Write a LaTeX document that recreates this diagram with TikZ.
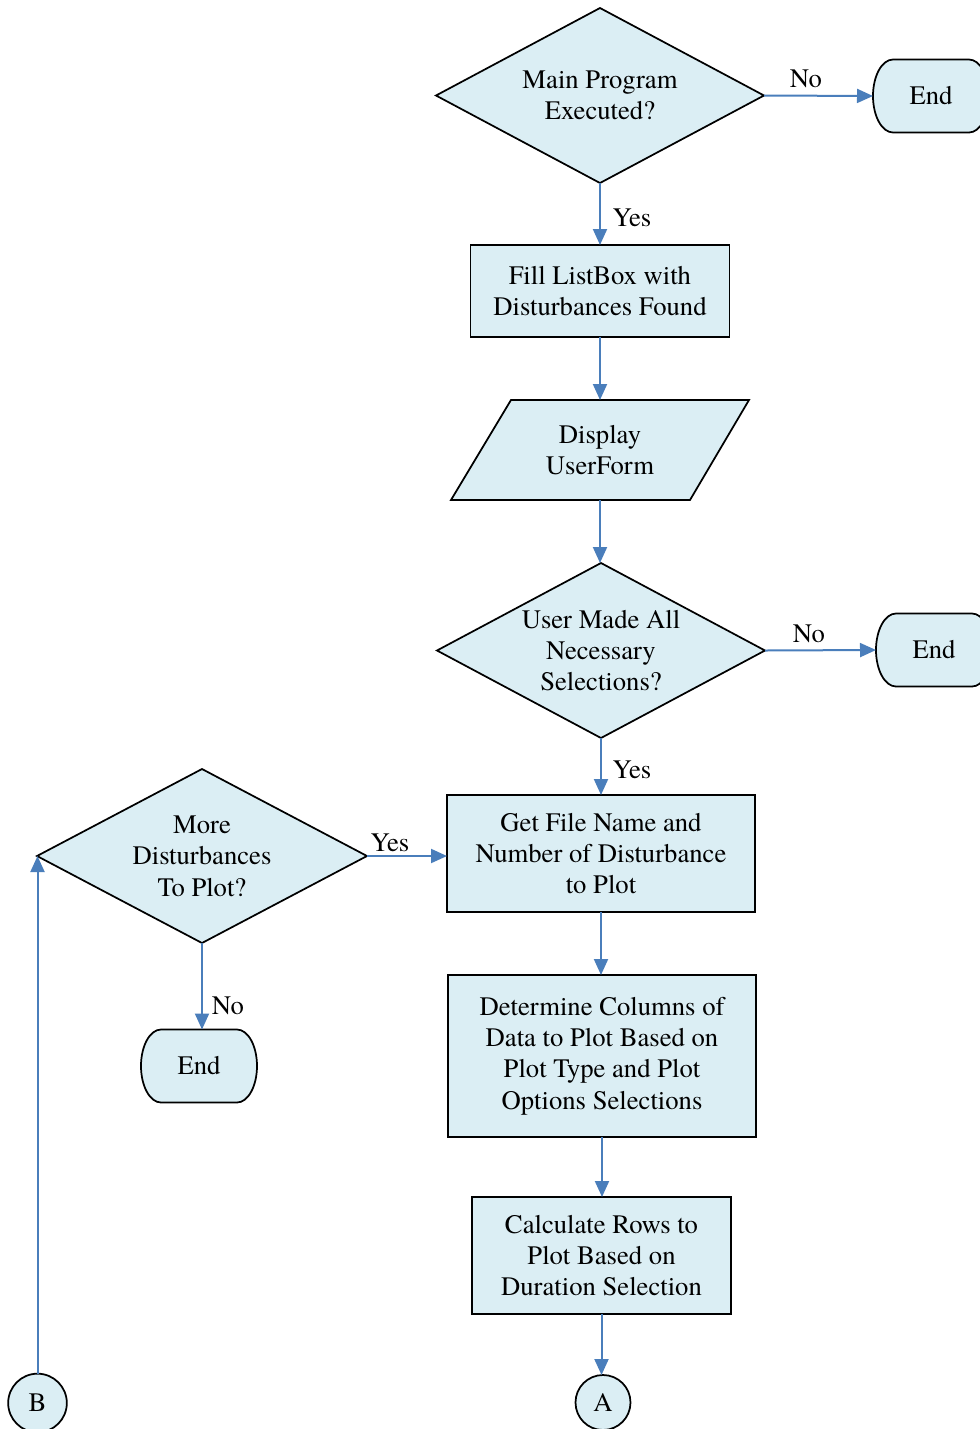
\documentclass[tikz,border=0pt]{standalone}
\usepackage{fontspec}
\setmainfont{texgyretermes-regular.otf}
\usetikzlibrary{shapes.geometric,arrows.meta,calc}
\definecolor{boxfill}{RGB}{219,238,244}
\definecolor{arrowblue}{RGB}{74,126,187}
\tikzset{
  txt/.style={align=center, font=\fontsize{20pt}{23.5pt}\selectfont, inner sep=0pt, outer sep=0pt},
  base/.style={txt, draw=black, line width=1.3pt, fill=boxfill},
  process/.style={base, rectangle},
  shapeline/.style={draw=black, line width=1.3pt, fill=boxfill},
  textbox/.style={txt, rectangle},
  connector/.style={base, circle},
  flow/.style={draw=arrowblue, line width=1.5pt, -{Triangle[length=12pt,width=10.5pt]}},
  lbl/.style={txt}
}
\newcommand\terminal[3]{%
  \draw[shapeline] (#2) ++(-28.5pt,27.375pt) -- ++(57pt,0pt)
    arc[start angle=90,end angle=-90,x radius=15pt,y radius=27.375pt]
    -- ++(-57pt,0pt)
    arc[start angle=270,end angle=90,x radius=15pt,y radius=27.375pt] -- cycle;
  \node[textbox, minimum width=87pt, minimum height=54.75pt] (#1) at (#2) {#3};
}
\newcommand\decision[5]{%
  \draw[shapeline] (#2) ++(-#3,0pt) -- ++(#3,#4) -- ++(#3,-#4) -- ++(-#3,-#4) -- cycle;
  \node[textbox, minimum width=2*#3, minimum height=2*#4] (#1) at (#2) {#5};
}
\begin{document}
\begin{tikzpicture}[x=0.75pt,y=-0.75pt]
\useasboundingbox (0,0) rectangle (979,1429);

% top decision
\decision{d1}{600,95.5}{123pt}{65.625pt}{Main Program\\Executed?}
\terminal{end1}{931,96}{End}
\node[process, minimum width=194.25pt, minimum height=69pt] (fill) at (600,291) {Fill ListBox with\\Disturbances Found};

% parallelogram
\draw[shapeline] (511,400) -- (749,400) -- (690,500) -- (451,500) -- cycle;
\node[textbox, minimum width=223.5pt, minimum height=75pt] (disp) at (600,450) {Display\\UserForm};

\decision{d2}{601,650.5}{123pt}{65.625pt}{User Made All\\Necessary\\Selections?}
\terminal{end2}{934,650}{End}

\node[process, minimum width=231pt, minimum height=87.75pt] (getf) at (601,853.5) {Get File Name and\\Number of Disturbance\\to Plot};
\decision{d3}{202,856}{123.75pt}{65.25pt}{More\\Disturbances\\To Plot?}
\terminal{end3}{199,1066}{End}

\node[process, minimum width=231pt, minimum height=121.5pt] (cols) at (602,1056) {Determine Columns of\\Data to Plot Based on\\Plot Type and Plot\\Options Selections};
\node[process, minimum width=194.25pt, minimum height=87.75pt] (rows) at (601.5,1255.5) {Calculate Rows to\\Plot Based on\\Duration Selection};

\node[connector, minimum size=41.25pt] (A) at (603,1402.5) {A};
\node[connector, minimum size=44pt] (B) at (37.5,1403) {B};

% connectors
\draw[flow] (d1.east) -- (end1.west);
\node[lbl] at (806,79) {No};
\draw[flow] (d1.south) -- (fill.north);
\node[lbl] at (632,218) {Yes};
\draw[flow] (fill.south) -- (disp.north);
\draw[flow] (disp.south) -- (disp.south |- d2.north);
\draw[flow] (d2.east) -- (end2.west);
\node[lbl] at (809,634) {No};
\draw[flow] (d2.south) -- (getf.north);
\node[lbl] at (632,770) {Yes};
\draw[flow] (d3.east) -- (getf.west |- d3.east);
\node[lbl] at (390,843) {Yes};
\draw[flow] (d3.south) -- (d3.south |- end3.north);
\node[lbl] at (228,1006) {No};
\draw[flow] (getf.south) -- (getf.south |- cols.north);
\draw[flow] (cols.south) -- (cols.south |- rows.north);
\draw[flow] (rows.south) -- (rows.south |- A.north);
\draw[flow] (B.north) -- (B.north |- d3.west);
\end{tikzpicture}
\end{document}
